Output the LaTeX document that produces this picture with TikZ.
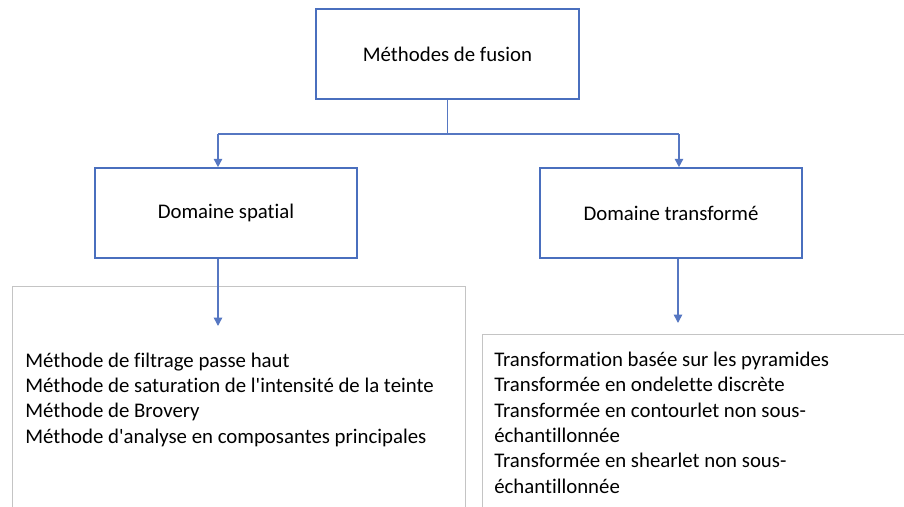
\documentclass[tikz,border=0pt]{standalone}
\usepackage{fontspec}
\setmainfont{Carlito}[Ligatures=NoCommon]
\usetikzlibrary{arrows.meta}
\definecolor{boxblue}{HTML}{4A6FBE}
\definecolor{linkblue}{HTML}{5677C2}
\definecolor{listgray}{HTML}{C4C4C4}
\begin{document}
\begin{tikzpicture}[x=0.025cm, y=-0.025cm,
    every node/.style={font=\fontsize{14.8}{18}\selectfont},
    headbox/.style={draw=boxblue, line width=1.4pt, minimum width=6.55cm, minimum height=2.24cm, inner sep=0pt},
    listbox/.style={draw=listgray, line width=0.7pt},
    listtext/.style={anchor=base west, align=left, inner sep=0pt},
    link/.style={draw=linkblue, line width=1.1pt},
    tip/.style={link, -{Triangle[width=6pt,length=6pt]}}]
    \useasboundingbox (0,0) rectangle (904,507);

    % boites
    \node[headbox] (fusion) at (447.5,54) {Méthodes de fusion};
    \node[headbox] (spatial) at (226,213) {Domaine spatial};
    \node[headbox] (transf) at (671,213) {Domaine transformé};

    % listes (ancre sur la derniere ligne)
    \draw[listbox] (465,520) |- (12,286) -- (12,520);
    \draw[listbox] (482,520) |- (910,334);
    \node[listtext] (spList) at (25,443)
        {Méthode de filtrage passe haut\\
         Méthode de saturation de l\textquotesingle intensité de la teinte\\
         Méthode de Brovery\\
         Méthode d\textquotesingle analyse en composantes principales};
    \node[listtext] (trList) at (494,493)
        {Transformation basée sur les pyramides\\
         Transformée en ondelette discrète\\
         Transformée en contourlet non sous-\\
         échantillonnée\\
         Transformée en shearlet non sous-\\
         échantillonnée};

    % liaisons
    \coordinate (fork) at (447.5,134);
    \coordinate (spTop) at (218,134);
    \coordinate (trTop) at (679,134);
    \coordinate (spEnd) at (218,326);
    \coordinate (trEnd) at (678,323);
    \draw[link] (fusion.south) -- (fork);
    \draw[link] (spTop) -- (trTop);
    \draw[tip] (spTop) -- (spTop |- spatial.north);
    \draw[tip] (trTop) -- (trTop |- transf.north);
    \draw[tip] (spEnd |- spatial.south) -- (spEnd);
    \draw[tip] (trEnd |- transf.south) -- (trEnd);
\end{tikzpicture}
\end{document}
